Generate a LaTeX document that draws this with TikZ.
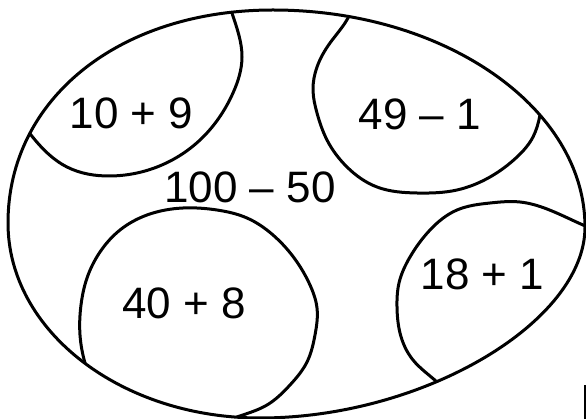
\documentclass[tikz,border=0pt]{standalone}
\usepackage{fontspec}
\setmainfont{Liberation Sans}
\usetikzlibrary{hobby}
\begin{document}
\begin{tikzpicture}[x=1pt,y=-1pt,
  outline/.style={line width=3pt, line join=round, line cap=round},
  arcline/.style={outline, use Hobby shortcut},
  lbl/.style={inner sep=0pt, anchor=base, font=\fontsize{44}{50}\selectfont}]
\useasboundingbox (0,0) rectangle (586,419);
% inner arcs, clipped to the egg
\begin{scope}
  \clip (273,10) .. controls (119,10) and (8,99) .. (8,223)
        .. controls (8,331) and (121,418) .. (260,418)
        .. controls (423,418) and (585,322) .. (585,227)
        .. controls (585,108) and (445,10) .. (273,10) -- cycle;
  % 10 + 9
  \draw[arcline] (228,0) .. (232,13) .. (242,57) .. (233,93) .. (200,140) .. (157,167) .. (110,176) .. (67,167) .. (31,135) .. (22,123);
  % 49 - 1
  \draw[arcline] (353,6) .. (348,18) .. (330,43) .. (317,67) .. (313,90) .. (317,113) .. (327,140) .. (347,167) .. (377,187) .. (417,193) .. (457,190) .. (490,177) .. (517,157) .. (533,137) .. (540,115) .. (542,103);
  % 40 + 8
  \draw[arcline] (89,375) .. (85,363) .. (80,335) .. (81,305) .. (87,278) .. (100,252) .. (120,230) .. (147,215) .. (183,208) .. (217,210) .. (247,218) .. (273,235) .. (297,262) .. (310,285) .. (317,308) .. (315,335) .. (307,362) .. (290,385) .. (267,405) .. (237,417) .. (222,423);
  % 18 + 1
  \draw[arcline] (595,230) .. (583,225) .. (547,209) .. (520,202) .. (490,203) .. (457,210) .. (430,230) .. (410,257) .. (399,283) .. (397,307) .. (400,333) .. (413,360) .. (437,382) .. (446,391);
\end{scope}
% outer egg
\draw[outline] (273,10) .. controls (119,10) and (8,99) .. (8,223)
      .. controls (8,331) and (121,418) .. (260,418)
      .. controls (423,418) and (585,322) .. (585,227)
      .. controls (585,108) and (445,10) .. (273,10) -- cycle;
% labels
\node[lbl] (t1) at (131.5,128.3) {10 + 9};
\node[lbl] (t0) at (250,202.5) {100 – 50};
\node[lbl] (t2) at (420,130) {49 – 1};
\node[lbl] (t3) at (183.8,318.3) {40 + 8};
\node[lbl] (t4) at (482.5,290) {18 + 1};
% edge mark at lower right
\draw[line width=1.5pt] (585,385) -- (585,419);
\end{tikzpicture}
\end{document}
